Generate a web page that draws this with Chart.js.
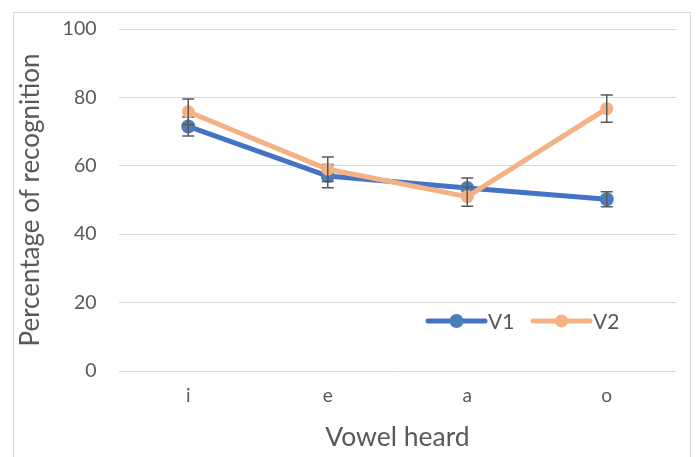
<!DOCTYPE html>
<html>
<head>
<meta charset="utf-8">
<script src="https://cdn.jsdelivr.net/npm/chart.js@4.4.0/dist/chart.umd.min.js"></script>
<style>
  html, body { margin: 0; padding: 0; background: #fff; }
  canvas { display: block; }
</style>
</head>
<body>
<canvas id="grafico" width="697" height="457"></canvas>
<script>
// dados
const vogais = ["i", "e", "a", "o"];
const v1 = [71.5, 57, 53.5, 50.2];
const v2 = [75.8, 59, 51, 76.7];
const erroV1 = [2.8, 3.4, 2.9, 2.2];
const erroV2 = [3.7, 3.6, 2.8, 4.0];
const nomes = ["V1", "V2"];

const corTexto = "#595959";
const fonte = "Lato";

// barras de erro, desenhadas logo depois de cada série
const barrasErro = {
    id: "barrasErro",
    afterDatasetDraw(chart, args) {
        const erros = [erroV1, erroV2][args.index];
        const dados = chart.data.datasets[args.index].data;
        const x = chart.scales.x, y = chart.scales.y;
        const ctx = chart.ctx;
        ctx.save();
        ctx.strokeStyle = "#595959";
        ctx.lineWidth = 1.5;
        dados.forEach((v, i) => {
            const px = x.getPixelForValue(i);
            const topo = y.getPixelForValue(v + erros[i]);
            const base = y.getPixelForValue(v - erros[i]);
            ctx.beginPath();
            ctx.moveTo(px, topo); ctx.lineTo(px, base);
            ctx.moveTo(px - 6, topo); ctx.lineTo(px + 6, topo);
            ctx.moveTo(px - 6, base); ctx.lineTo(px + 6, base);
            ctx.stroke();
        });
        ctx.restore();
    }
};

// moldura e legenda dentro da área do gráfico
const moldura = {
    id: "moldura",
    beforeDraw(chart) {
        const ctx = chart.ctx;
        ctx.save();
        ctx.strokeStyle = "#D9D9D9";
        ctx.lineWidth = 1;
        ctx.strokeRect(13.5, 12.5, 677, 470);
        ctx.restore();
    },
    afterDraw(chart) {
        const ctx = chart.ctx;
        const inicio = [428, 533];
        ctx.save();
        chart.data.datasets.forEach((ds, i) => {
            const x0 = inicio[i], yl = 321;
            ctx.strokeStyle = ds.borderColor;
            ctx.lineWidth = ds.borderWidth;
            ctx.lineCap = "round";
            ctx.beginPath();
            ctx.moveTo(x0, yl); ctx.lineTo(x0 + 57, yl);
            ctx.stroke();
            ctx.fillStyle = ds.pointBackgroundColor;
            ctx.beginPath();
            ctx.arc(x0 + 28.5, yl, ds.pointRadius, 0, Math.PI * 2);
            ctx.fill();
            ctx.fillStyle = corTexto;
            ctx.font = "21px " + fonte;
            ctx.textBaseline = "middle";
            ctx.fillText(ds.label, x0 + 60, yl + 1);
        });
        ctx.restore();
    }
};

const ctx = document.getElementById("grafico").getContext("2d");
new Chart(ctx, {
    type: "line",
    data: {
        labels: vogais,
        datasets: [{
            label: nomes[0],
            data: v1,
            borderColor: "#4472C4",
            borderWidth: 5,
            pointRadius: 7,
            pointBackgroundColor: "#4A7EBB",
            pointBorderWidth: 0,
            tension: 0,
            order: 1
        }, {
            label: nomes[1],
            data: v2,
            borderColor: "#F4B183",
            borderWidth: 5,
            pointRadius: 6.5,
            pointBackgroundColor: "#F4B183",
            pointBorderWidth: 0,
            tension: 0,
            order: 0
        }]
    },
    options: {
        responsive: false,
        animation: false,
        layout: { padding: { left: 13, right: 20.5, top: 29, bottom: 0 } },
        plugins: { legend: { display: false }, tooltip: { enabled: false } },
        scales: {
            x: {
                offset: true,
                grid: { display: false, drawTicks: false, offset: true },
                border: { display: false },
                ticks: { color: corTexto, font: { family: fonte, size: 19 }, padding: 13 },
                title: { display: true, text: "Vowel heard", color: corTexto,
                         font: { family: fonte, size: 26.5 }, padding: { top: 0, bottom: 4 } },
                afterFit(s) { s.height = 86; }
            },
            y: {
                min: 0, max: 100,
                grid: { color: "#D9D9D9", drawTicks: false },
                border: { display: false },
                ticks: { stepSize: 20, color: corTexto, font: { family: fonte, size: 19.5 }, padding: 22 },
                title: { display: true, text: "Percentage of recognition", color: corTexto,
                         font: { family: fonte, size: 26 }, padding: { top: 2, bottom: 0 } },
                afterFit(s) { s.width = 105.5; s.paddingTop = 0; }
            }
        }
    },
    plugins: [barrasErro, moldura]
});
</script>
</body>
</html>
